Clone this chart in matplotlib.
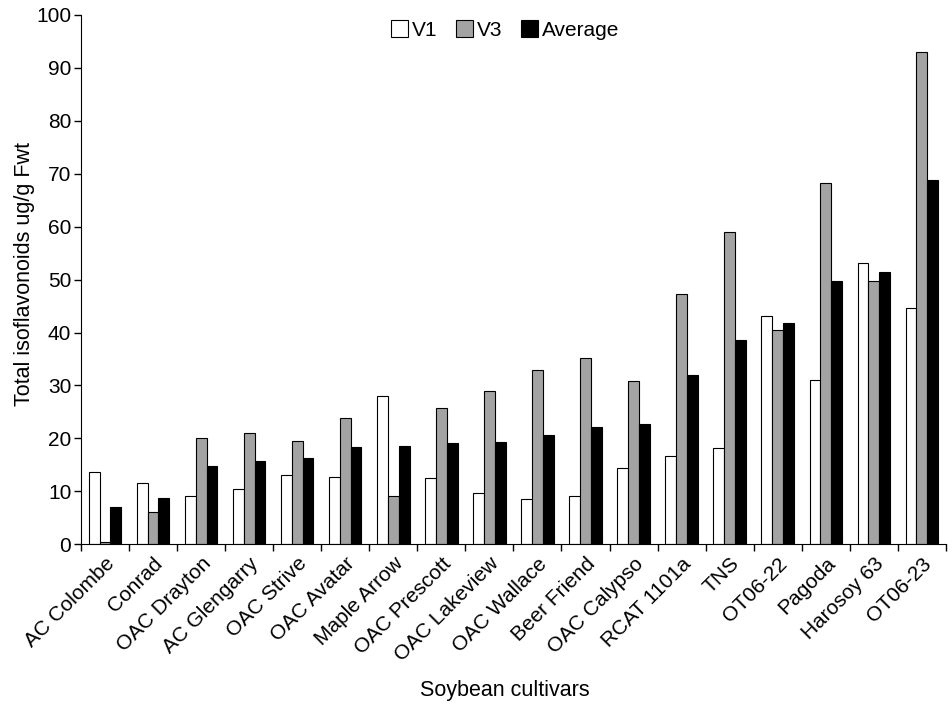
import numpy as np
import matplotlib
matplotlib.use("Agg")
import matplotlib.pyplot as plt

# Data
cultivars = ["AC Colombe", "Conrad", "OAC Drayton", "AC Glengarry", "OAC Strive",
             "OAC Avatar", "Maple Arrow", "OAC Prescott", "OAC Lakeview", "OAC Wallace",
             "Beer Friend", "OAC Calypso", "RCAT 1101a", "TNS", "OT06-22", "Pagoda",
             "Harosoy 63", "OT06-23"]
v1 = [13.6, 11.5, 9.2, 10.5, 13.0, 12.7, 28.1, 12.5, 9.6, 8.5,
      9.2, 14.5, 16.7, 18.1, 43.1, 31.1, 53.1, 44.6]
v3 = [0.5, 6.1, 20.1, 21.1, 19.5, 23.8, 9.2, 25.8, 29.0, 32.9,
      35.1, 30.9, 47.2, 58.9, 40.5, 68.2, 49.8, 93.0]
avg = [7.1, 8.8, 14.7, 15.8, 16.3, 18.3, 18.6, 19.1, 19.4, 20.7,
       22.1, 22.8, 31.9, 38.6, 41.8, 49.7, 51.4, 68.8]

plt.rcParams['font.family'] = ['Liberation Sans', 'DejaVu Sans']

fig = plt.figure(figsize=(9.53, 7.06), dpi=100)
ax = fig.add_axes([0.085, 0.229, 0.9075, 0.75])

x = np.arange(len(cultivars))
w = 0.225
ax.bar(x - w, v1, w, color='white', edgecolor='black', linewidth=0.8, label='V1')
ax.bar(x, v3, w, color='#a3a3a3', edgecolor='black', linewidth=0.8, label='V3')
ax.bar(x + w, avg, w, color='black', edgecolor='black', linewidth=0.8, label='Average')

ax.set_xlim(-0.5, len(cultivars) - 0.5)
ax.set_ylim(0, 100)
ax.set_yticks(np.arange(0, 101, 10))

# labels at group centres, tick marks at group boundaries
ax.set_xticks(x)
ax.set_xticklabels(cultivars, rotation=45, ha='right', rotation_mode='anchor')
ax.set_xticks(np.arange(-0.5, len(cultivars)), minor=True)
ax.tick_params(axis='x', which='major', length=0, labelsize=15, pad=7)
ax.tick_params(axis='x', which='minor', length=5, width=1, direction='out')
ax.tick_params(axis='y', length=5, width=1, labelsize=15, pad=2)

for s in ['top', 'right']:
    ax.spines[s].set_visible(False)

ax.set_ylabel('Total isoflavonoids ug/g Fwt', fontsize=15.5, va='center')
ax.yaxis.set_label_coords(-0.065, 0.51)
ax.set_xlabel('Soybean cultivars', fontsize=15.5, va='center')
ax.xaxis.set_label_coords(0.49, -0.276)

ax.legend(loc='upper center', bbox_to_anchor=(0.49, 1.025), ncol=3, frameon=False,
          fontsize=15, handlelength=0.85, handleheight=0.85, handletextpad=0.15,
          columnspacing=0.9)

fig.savefig('out.png', dpi=100)
